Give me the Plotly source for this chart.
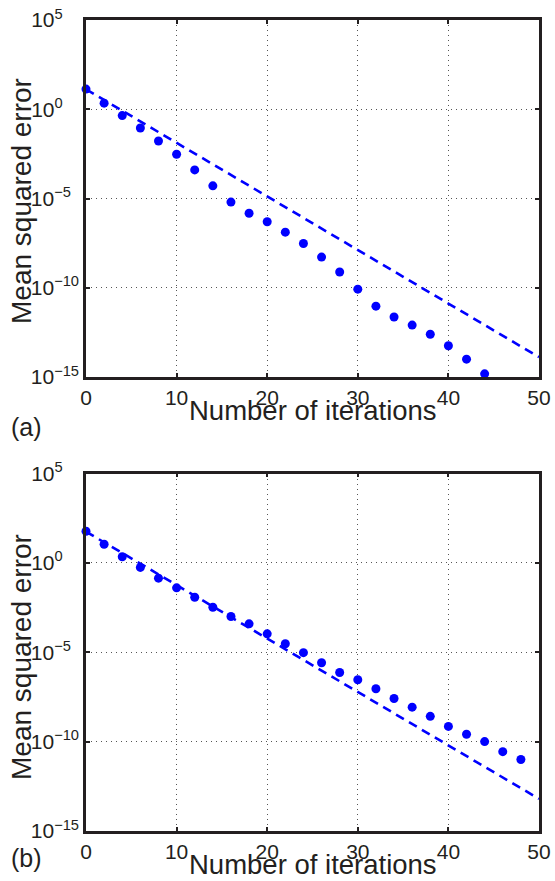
import plotly.graph_objects as go

# ---------------- data ----------------
iters_a = [0, 2, 4, 6, 8, 10, 12, 14, 16, 18, 20, 22, 24, 26, 28, 30, 32, 34, 36, 38, 40, 42, 44]
mse_a = [13.5, 2.2, 0.44, 0.089, 0.0166, 3.0e-3, 4.0e-4, 5.1e-5, 6.3e-6, 1.5e-6, 5.0e-7,
         1.3e-7, 3.0e-8, 5.2e-9, 7.6e-10, 8.3e-11, 9.3e-12, 2.3e-12, 8.1e-13, 2.5e-13,
         5.6e-14, 1.0e-14, 1.5e-15]
bound_iters_a = [0, 50]
bound_a = [13.2, 1.3e-14]

iters_b = [0, 2, 4, 6, 8, 10, 12, 14, 16, 18, 20, 22, 24, 26, 28, 30, 32, 34, 36, 38, 40, 42, 44, 46, 48]
mse_b = [59, 11, 2.2, 0.56, 0.14, 0.040, 0.012, 3.3e-3, 1.0e-3, 3.9e-4, 1.07e-4, 3.0e-5,
         9.5e-6, 2.6e-6, 7.4e-7, 2.9e-7, 9.1e-8, 2.6e-8, 8.5e-9, 2.6e-9, 7.1e-10, 2.6e-10,
         1.0e-10, 2.75e-11, 1.0e-11]
bound_iters_b = [0, 50]
bound_b = [56, 6.3e-14]

x_ticks = [0, 10, 20, 30, 40, 50]
y_tickvals = [1e5, 1e0, 1e-5, 1e-10, 1e-15]
NB = "\u00a0"
y_ticktext = ["10<sup>5" + NB * 4 + "</sup>", "10<sup>0" + NB * 4 + "</sup>",
              "10<sup>\u22125" + NB * 2 + "</sup>", "10<sup>\u221210</sup>",
              "10<sup>\u221215</sup>"]
x_title = "Number of iterations"
y_title = "Mean squared error"
panel_labels = ["(a)", "(b)"]

# ---------------- figure ----------------
W, H = 555, 881
BLUE = "#0000ff"
INK = "#231f20"
FONT = "Liberation Sans, Arial, Helvetica, sans-serif"

fig = go.Figure()

panels = [
    (iters_a, mse_a, bound_iters_a, bound_a, "x", "y"),
    (iters_b, mse_b, bound_iters_b, bound_b, "x2", "y2"),
]
for it, m, bi, bv, xa, ya in panels:
    fig.add_trace(go.Scatter(x=it, y=m, mode="markers", xaxis=xa, yaxis=ya,
                             marker=dict(color=BLUE, size=9, line=dict(width=0)),
                             cliponaxis=False, showlegend=False))
    fig.add_trace(go.Scatter(x=bi, y=bv, mode="lines", xaxis=xa, yaxis=ya,
                             line=dict(color=BLUE, width=2.6, dash="9px,6px"),
                             showlegend=False))

# pixel geometry
x0, x1 = 86, 539
top_a, bot_a = 20, 377
top_b, bot_b = 473.5, 831


def py(p):
    return 1 - p / H


common_x = dict(range=[0, 50], tickvals=x_ticks, ticks="inside", ticklen=4, tickwidth=2,
                tickcolor=INK, showline=True, linecolor=INK, linewidth=2.5, mirror="ticks",
                showgrid=True, gridcolor="#555555", gridwidth=1, griddash="1px,4px",
                zeroline=False, tickfont=dict(family=FONT, size=21, color=INK),
                automargin=False, domain=[x0 / W, x1 / W])
common_y = dict(type="log", range=[-15, 5], tickvals=y_tickvals, ticktext=y_ticktext,
                ticks="inside", ticklen=4, tickwidth=2, tickcolor=INK, showline=True,
                linecolor=INK, linewidth=2.5, mirror="ticks", showgrid=True,
                gridcolor="#555555", gridwidth=1, griddash="1px,4px", zeroline=False,
                tickfont=dict(family=FONT, size=21, color=INK), automargin=False)

fig.update_layout(
    width=W, height=H, margin=dict(l=0, r=0, t=0, b=0),
    paper_bgcolor="white", plot_bgcolor="white",
    font=dict(family=FONT, color=INK),
    xaxis=dict(common_x, anchor="y"),
    yaxis=dict(common_y, anchor="x", domain=[py(bot_a), py(top_a)]),
    xaxis2=dict(common_x, anchor="y2"),
    yaxis2=dict(common_y, anchor="x2", domain=[py(bot_b), py(top_b)]),
)

xt_y = [410.5, 864.5]
yt_y = [201, 657]
lab_y = [427, 858]
anns = []
for i, lab in enumerate(panel_labels):
    anns.append(dict(text=x_title, xref="paper", yref="paper", x=(x0 + x1) / 2 / W,
                     y=py(xt_y[i]), xanchor="center", yanchor="middle", showarrow=False,
                     font=dict(family=FONT, size=27.5, color=INK)))
    anns.append(dict(text=y_title, xref="paper", yref="paper", x=21 / W,
                     y=py(yt_y[i]), xanchor="center", yanchor="middle",
                     textangle=-90, showarrow=False,
                     font=dict(family=FONT, size=28, color=INK)))
    anns.append(dict(text=lab, xref="paper", yref="paper", x=9 / W, y=py(lab_y[i]),
                     xanchor="left", yanchor="middle", showarrow=False,
                     font=dict(family=FONT, size=25, color=INK)))
fig.update_layout(annotations=anns)

fig.write_html("out.html", config={"displayModeBar": False},
               post_script="document.body.style.margin='0px';")
